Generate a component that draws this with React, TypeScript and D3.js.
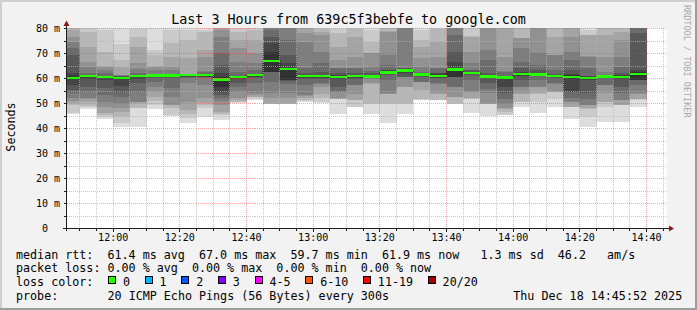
import React from "react";
import * as d3 from "d3";

// ---------- data ----------
const barEndTimes = [
  "11:50", "11:55", "12:00", "12:05", "12:10", "12:15", "12:20", "12:25", "12:30", "12:35",
  "12:40", "12:45", "12:50", "12:55", "13:00", "13:05", "13:10", "13:15", "13:20", "13:25",
  "13:30", "13:35", "13:40", "13:45", "13:50", "13:55", "14:00", "14:05", "14:10", "14:15",
  "14:20", "14:25", "14:30", "14:35", "14:40",
];

// median rtt per 5-minute step (ms)
const medians = [
  60.3, 61.0, 60.7, 60.2, 61.0, 61.3, 61.2, 61.4, 61.4, 59.7,
  60.6, 61.4, 67.0, 63.8, 61.0, 61.0, 60.6, 61.0, 60.9, 62.5,
  63.2, 61.7, 61.0, 63.6, 62.3, 60.8, 60.4, 61.8, 61.7, 61.0,
  60.6, 60.3, 60.8, 60.7, 61.9,
];

// 20 sorted ping rtts per step (ms)
const pings = [
  [45.7, 46.1, 49.5, 50.4, 51.0, 52.1, 54.1, 55.5, 57.5, 59.8, 60.9, 62.1, 69.5, 72.1, 74.8, 76.8, 79.5, 80.2, 80.5, 82],
  [47.7, 48.8, 49.0, 50.8, 51.8, 52.1, 54.8, 56.8, 59.7, 60.5, 61.0, 61.1, 61.2, 62.1, 64.8, 66.8, 72.8, 78.8, 81, 84],
  [43.8, 44.5, 45.5, 46.1, 48.8, 50.8, 53.5, 56.1, 59.5, 60.3, 60.8, 60.9, 61.0, 62.1, 63.5, 64.8, 65.0, 70.8, 79.5, 83],
  [40.8, 42.1, 44.8, 46.5, 48.1, 50.1, 52.5, 54.8, 57.0, 59.7, 60.5, 60.7, 60.9, 61.1, 61.3, 61.5, 64.8, 67.5, 74.0, 85],
  [40.8, 48.1, 48.3, 50.2, 50.5, 50.8, 54.8, 58.1, 59.7, 60.5, 61.2, 61.3, 61.3, 62.1, 64.0, 66.1, 72.8, 76.8, 80, 82],
  [47.7, 49.5, 51.0, 52.8, 54.8, 56.8, 58.8, 60.2, 60.6, 60.9, 61.4, 61.6, 61.7, 61.8, 63.5, 64.8, 65.0, 69.5, 71.5, 84],
  [45.2, 45.6, 48.1, 49.3, 49.5, 52.8, 56.1, 60.2, 60.5, 60.8, 61.4, 61.6, 61.8, 61.9, 63.5, 64.5, 68.8, 74.1, 79.5, 81],
  [42.4, 44.1, 46.0, 47.5, 50.8, 58.1, 60.1, 60.5, 60.8, 61.0, 61.5, 61.7, 61.8, 61.9, 62.0, 62.0, 68.1, 75.5, 79.5, 82],
  [44.8, 48.1, 49.5, 50.1, 52.1, 57.5, 60.1, 60.5, 60.8, 61.1, 61.6, 61.8, 61.9, 62.8, 63.0, 68.8, 71.5, 78.8, 79.5, 82],
  [43.5, 45.5, 46.0, 46.8, 49.5, 51.0, 52.1, 53.5, 54.5, 56.5, 60.8, 62.1, 65.5, 70.1, 76.8, 79.5, 81, 82, 83, 85],
  [50.4, 50.5, 50.6, 51.5, 52.1, 54.8, 56.5, 58.1, 60.0, 60.3, 60.9, 61.0, 61.1, 62.8, 66.8, 72.1, 75.5, 78.8, 81, 83],
  [51.5, 51.8, 52.5, 52.8, 53.5, 54.1, 58.1, 60.2, 60.6, 60.9, 61.6, 61.8, 62.0, 63.5, 66.1, 70.1, 75.5, 79.5, 80.5, 82],
  [49.8, 49.9, 50.0, 50.1, 52.1, 54.1, 58.8, 62.5, 62.7, 62.8, 70.8, 74.1, 76.8, 79.5, 81, 82, 83, 84, 85, 86],
  [49.9, 50.0, 50.0, 50.1, 52.1, 54.1, 58.0, 59.0, 59.4, 59.5, 64.2, 66.1, 69.5, 75.5, 81, 82, 83, 84, 85, 86],
  [50.6, 51.0, 51.5, 52.1, 53.0, 53.5, 57.5, 60.0, 60.4, 60.7, 61.3, 61.6, 62.1, 64.1, 74.8, 78.1, 80.5, 82, 84, 86],
  [50.1, 50.5, 52.1, 54.0, 56.8, 57.9, 58.1, 60.0, 60.4, 60.7, 61.3, 61.6, 62.8, 66.1, 70.8, 77.5, 78.5, 80, 80.5, 82],
  [46.0, 51.9, 51.95, 52.0, 52.1, 54.7, 54.8, 56.8, 59.8, 60.2, 61.0, 61.3, 62.1, 64.1, 64.2, 67.5, 72.8, 78.1, 80, 82],
  [48.6, 48.8, 51.3, 51.4, 54.0, 57.3, 57.4, 60.0, 60.4, 60.7, 61.3, 61.6, 62.1, 64.1, 64.2, 68.7, 76.7, 80, 81, 82],
  [45.9, 50.0, 50.1, 58.0, 58.1, 60.0, 60.2, 60.4, 60.5, 60.7, 61.2, 61.5, 62.1, 62.9, 64.8, 70.1, 70.2, 74.8, 79.5, 81],
  [42.4, 50.0, 50.1, 53.9, 54.0, 54.1, 59.5, 61.5, 61.8, 62.0, 62.8, 63.3, 63.4, 65.5, 69.5, 78.8, 79, 81, 82, 83],
  [45.9, 50.0, 50.1, 56.7, 56.8, 60.6, 60.7, 60.8, 62.1, 62.6, 63.6, 63.9, 64.1, 64.2, 82, 83, 84, 85, 86, 88],
  [51.5, 51.6, 51.7, 55.5, 58.6, 58.7, 58.8, 60.5, 60.9, 61.2, 62.0, 62.2, 62.4, 62.5, 64.8, 68.1, 72.8, 75.5, 79.5, 82],
  [51.4, 51.5, 51.6, 54.0, 54.1, 58.0, 58.1, 60.1, 60.4, 60.6, 61.3, 62.1, 62.2, 64.1, 64.2, 68.8, 74.8, 80, 81, 82],
  [49.9, 50.0, 50.1, 52.6, 52.7, 56.6, 56.7, 60.5, 60.6, 60.7, 64.2, 66.7, 70.7, 77.4, 80.5, 81, 82, 83, 84, 85],
  [46.1, 51.9, 52.0, 52.1, 54.7, 54.8, 59.5, 61.5, 61.8, 62.0, 62.6, 62.8, 63.5, 63.6, 66.1, 70.8, 76.8, 76.9, 81, 82],
  [45.0, 49.8, 49.9, 50.0, 50.1, 54.1, 56.0, 58.1, 60.1, 60.4, 61.2, 61.6, 62.1, 67.5, 71.5, 81, 82, 83, 84, 85],
  [45.4, 45.5, 46.8, 47.8, 48.1, 50.1, 52.0, 54.1, 56.8, 59.9, 60.8, 60.9, 61.0, 62.8, 62.9, 68.8, 81, 82, 83, 84],
  [48.8, 50.7, 50.8, 54.0, 54.1, 56.7, 56.8, 59.5, 61.0, 61.4, 62.2, 62.6, 64.1, 66.8, 72.1, 76.1, 76.2, 81, 82, 83],
  [46.4, 50.8, 54.0, 54.1, 56.7, 56.8, 59.5, 61.0, 61.2, 61.4, 62.0, 62.3, 63.5, 65.5, 70.1, 81, 82, 83, 84, 85],
  [48.6, 51.7, 54.6, 54.7, 54.8, 58.0, 58.1, 60.2, 60.5, 60.8, 61.3, 61.5, 61.7, 63.5, 69.5, 69.6, 76.8, 81, 82, 83],
  [44.0, 48.6, 48.7, 48.8, 50.7, 50.8, 52.1, 54.7, 54.8, 59.8, 61.3, 61.7, 63.5, 67.5, 70.8, 76.8, 81, 82, 83, 84],
  [40.8, 44.8, 48.0, 48.1, 49.4, 49.5, 52.0, 54.1, 59.5, 59.8, 60.7, 61.0, 61.2, 64.1, 68.8, 68.9, 77.5, 77.6, 79.5, 81],
  [42.5, 48.8, 50.7, 50.8, 54.1, 57.4, 57.5, 60.2, 60.5, 60.6, 61.2, 61.4, 61.5, 61.6, 62.8, 68.8, 77.5, 81, 82, 83],
  [42.8, 49.3, 49.4, 49.5, 51.4, 51.5, 54.1, 56.8, 60.0, 60.3, 61.1, 61.5, 62.1, 64.8, 68.8, 75.5, 78.8, 81, 82, 83],
  [48.8, 51.6, 51.7, 51.8, 54.0, 54.1, 57.5, 59.3, 59.4, 59.5, 62.5, 63.5, 78.1, 81, 82, 83, 84, 85, 86, 88],
];

const yTickValues = [0, 10, 20, 30, 40, 50, 60, 70, 80];
const rttStats = ["61.4", "67.0", "59.7", "61.9", "1.3", "46.2"];
const lossStats = ["0.00", "0.00", "0.00", "0.00"];
const lossLabels = ["0", "1", "2", "3", "4-5", "6-10", "11-19", "20/20"];
const lossColors = ["#26ff00", "#00b8ff", "#0059ff", "#7e00ff", "#ff00ff", "#ff5500", "#ff0000", "#a10000"];
const titleText = "Last 3 Hours from 639c5f3bebfe to google.com";
const probeText = "20 ICMP Echo Pings (56 Bytes) every 300s";
const dateText = "Thu Dec 18 14:45:52 2025";

// ---------- layout ----------
const W = 697;
const H = 310;
const MONO = "'DejaVu Sans Mono', monospace";
const CW = 7.04; // legend char width
const LX = 16; // legend left

const parse = d3.timeParse("%H:%M");

export default function App() {
  const t0 = parse("11:46") as Date;
  const t1 = parse("14:46") as Date;
  const x = d3.scaleTime().domain([t0, t1]).range([66.5, 666.5]);
  const y = d3.scaleLinear().domain([0, 80]).range([228.5, 28.5]);

  const bars = barEndTimes.map((t, i) => {
    const end = parse(t) as Date;
    const startRaw = d3.timeMinute.offset(end, -5);
    const start = startRaw < t0 ? t0 : startRaw;
    return { x0: x(start), x1: x(end), p: pings[i], m: medians[i] };
  });

  const grey = (i: number) => {
    const v = Math.floor((190 / 10) * (10 - i)) + 50;
    return `rgb(${v},${v},${v})`;
  };

  const snap = (v: number) => Math.floor(v) + 0.5;

  const minorTimes = x.ticks(d3.timeMinute.every(5) as any).filter((d) => d.getMinutes() % 20 !== 0);
  const majorTimes = x.ticks(d3.timeMinute.every(20) as any);
  const fmt = d3.timeFormat("%H:%M");
  const minorY = d3.range(5, 80, 10);
  const majorY = d3.range(10, 81, 10);

  const medianPts: [number, number][] = [];
  bars.forEach((b) => {
    medianPts.push([b.x0, y(b.m)]);
    medianPts.push([b.x1, y(b.m)]);
  });
  const medianPath = d3.line()(medianPts) || "";

  const row1 =
    `median rtt:  ${rttStats[0]} ms avg  ${rttStats[1]} ms max  ${rttStats[2]} ms min  ${rttStats[3]} ms now   ${rttStats[4]} ms sd  ${rttStats[5]}   am/s`;
  const row2 = `packet loss: ${lossStats[0]} % avg  ${lossStats[1]} % max  ${lossStats[2]} % min  ${lossStats[3]} % now`;

  const lossItems: { box: number; label: number; text: string; color: string }[] = [];
  let col = 13.1;
  lossLabels.forEach((l, i) => {
    const labelCol = col + 2.1;
    lossItems.push({ box: col, label: labelCol, text: l, color: lossColors[i] });
    col = labelCol + l.length + 2.1;
  });

  const rowY = [258.5, 272, 285.5, 299.5];

  return (
    <svg
      width={W}
      height={H}
      style={{ position: "fixed", left: 0, top: 0, display: "block" }}
      xmlns="http://www.w3.org/2000/svg"
    >
      <defs>
        <clipPath id="plotClip">
          <rect x={66.5} y={28} width={600} height={200.5} />
        </clipPath>
      </defs>
      {/* background & frame */}
      <rect x={0} y={0} width={W} height={H} fill="#f2f2f2" />
      <rect x={0} y={0} width={W} height={2} fill="#cfcfcf" />
      <rect x={0} y={0} width={2} height={H} fill="#cfcfcf" />
      <rect x={0} y={H - 2} width={W} height={2} fill="#9e9e9e" />
      <rect x={W - 2} y={0} width={2} height={H} fill="#9e9e9e" />

      {/* canvas */}
      <rect x={66.5} y={28} width={600} height={200.5} fill="#ffffff" />

      {/* smoke */}
      <g clipPath="url(#plotClip)" shapeRendering="crispEdges">
        {bars.map((b, bi) =>
          d3.range(1, 11).map((i) => {
            const lo = b.p[i - 1];
            const hi = b.p[20 - i];
            const yt = y(hi);
            const yb = y(lo);
            return (
              <rect
                key={`s${bi}-${i}`}
                x={b.x0}
                width={b.x1 - b.x0}
                y={yt}
                height={Math.max(0, yb - yt)}
                fill={grey(i)}
              />
            );
          })
        )}
      </g>

      {/* median line + loss-coloured band */}
      <g clipPath="url(#plotClip)">
        <path d={medianPath} fill="none" stroke="#202020" strokeWidth={1} />
        {bars.map((b, bi) => (
          <rect
            key={`m${bi}`}
            x={b.x0}
            width={b.x1 - b.x0}
            y={y(b.m) - 1.25}
            height={2.5}
            fill={lossColors[0]}
            shapeRendering="crispEdges"
          />
        ))}
      </g>

      {/* grid */}
      <g strokeDasharray="1,1" strokeWidth={1} shapeRendering="crispEdges">
        {minorY.map((v) => (
          <line key={`hy${v}`} x1={66.5} x2={666.5} y1={snap(y(v))} y2={snap(y(v))} stroke="rgba(180,180,180,0.75)" />
        ))}
        {minorTimes.map((t, i) => (
          <line key={`vx${i}`} x1={snap(x(t))} x2={snap(x(t))} y1={28} y2={228} stroke="rgba(180,180,180,0.75)" />
        ))}
        {majorY.map((v) => (
          <line key={`hY${v}`} x1={66.5} x2={666.5} y1={snap(y(v))} y2={snap(y(v))} stroke="rgba(235,60,60,0.45)" />
        ))}
        {majorTimes.map((t, i) => (
          <line key={`vX${i}`} x1={snap(x(t))} x2={snap(x(t))} y1={28} y2={228} stroke="rgba(235,60,60,0.45)" />
        ))}
      </g>

      {/* axes */}
      <g shapeRendering="crispEdges" stroke="#1f1f1f" strokeWidth={1}>
        <line x1={63} x2={669} y1={228.5} y2={228.5} />
        <line x1={66.5} x2={66.5} y1={231} y2={25} />
        {d3.range(5, 81, 5).map((v) => (
          <line key={`ty${v}`} x1={63.5} x2={66.5} y1={snap(y(v))} y2={snap(y(v))} />
        ))}
        {minorTimes.map((t, i) => (
          <line key={`tx${i}`} x1={snap(x(t))} x2={snap(x(t))} y1={229} y2={231} />
        ))}
        {majorTimes.map((t, i) => (
          <line key={`tX${i}`} x1={snap(x(t))} x2={snap(x(t))} y1={229} y2={232} />
        ))}
      </g>
      <polygon points="63.5,26 69.5,26 66.5,20.5" fill="#8a1a1a" />
      <polygon points="669,225.5 669,231.5 674,228.5" fill="#8a1a1a" />

      {/* tick labels */}
      <g fontFamily={MONO} fontSize={10} fill="#000">
        {yTickValues.map((v) => (
          <text key={`yl${v}`} x={v === 0 ? 48 : 60} y={y(v) + 3.5} textAnchor="end">
            {v === 0 ? "0" : `${v} m`}
          </text>
        ))}
        {majorTimes.map((t, i) => (
          <text key={`xl${i}`} x={x(t)} y={241} textAnchor="middle">
            {fmt(t)}
          </text>
        ))}
      </g>

      {/* title */}
      <text x={348.5} y={23.5} textAnchor="middle" fontFamily={MONO} fontSize={13.4} fill="#000">
        {titleText}
      </text>

      {/* y axis label */}
      <text
        transform="translate(15,127) rotate(-90)"
        textAnchor="middle"
        fontFamily={MONO}
        fontSize={11.7}
        fill="#000"
      >
        Seconds
      </text>

      {/* watermark */}
      <text transform="translate(684,5) rotate(90)" fontFamily={MONO} fontSize={8.5} fill="#a8a8a8">
        RRDTOOL / TOBI OETIKER
      </text>

      {/* legend */}
      <g fontFamily={MONO} fontSize={11.7} fill="#000" style={{ whiteSpace: "pre" }}>
        <text x={LX} y={rowY[0]} xmlSpace="preserve">{row1}</text>
        <text x={LX} y={rowY[1]} xmlSpace="preserve">{row2}</text>
        <text x={LX} y={rowY[2]} xmlSpace="preserve">loss color:</text>
        {lossItems.map((it, i) => (
          <g key={`li${i}`}>
            <rect
              x={Math.round(LX + it.box * CW) + 0.5}
              y={276.5}
              width={7}
              height={7}
              fill={it.color}
              stroke="#000"
              strokeWidth={1}
              shapeRendering="crispEdges"
            />
            <text x={LX + it.label * CW} y={rowY[2]}>{it.text}</text>
          </g>
        ))}
        <text x={LX} y={rowY[3]} xmlSpace="preserve">probe:</text>
        <text x={LX + 13 * CW} y={rowY[3]} xmlSpace="preserve">{probeText}</text>
        <text x={513.3} y={rowY[3]}>{dateText}</text>
      </g>
    </svg>
  );
}
